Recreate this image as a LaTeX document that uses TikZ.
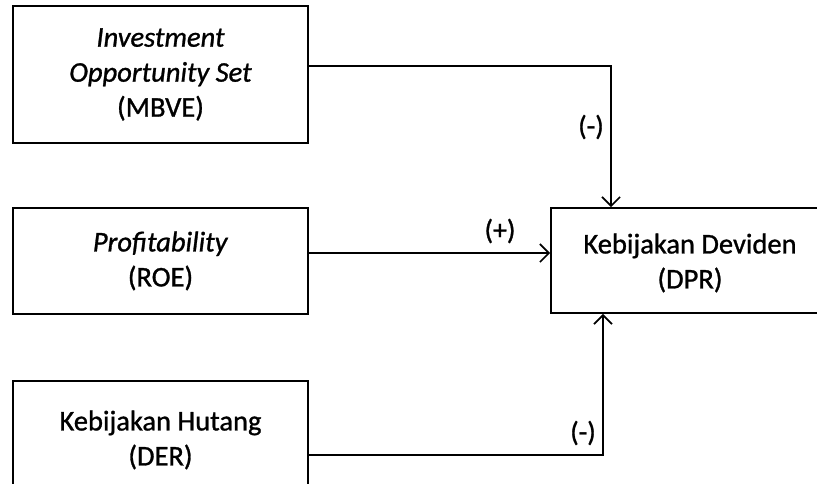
\documentclass[tikz,border=0pt]{standalone}
\usepackage{fontspec}
\setmainfont{Carlito}[FakeBold=1]
\usetikzlibrary{arrows.meta}
\tikzset{
  box/.style={draw, line width=1.7pt, align=center, inner sep=0pt,
    font=\fontsize{28.5}{35}\selectfont},
  txt/.style={align=center, inner sep=0pt, font=\fontsize{28.5}{35}\selectfont},
  conn/.style={line width=1.7pt, -{Straight Barb[length=9pt,width=18pt,line width=1.7pt]}},
  sign/.style={font=\fontsize{28}{30}\selectfont, inner sep=0pt}
}
\begin{document}
\begin{tikzpicture}[x=1pt,y=-1pt]
\useasboundingbox (0,0) rectangle (817,483);
\clip (0,0) rectangle (817,483);
\node[box, minimum width=295pt, minimum height=137pt] (ios) at (160.5,74.5)
  {\textit{Investment}\\\textit{Opportunity Set}\\(MBVE)};
\node[box, minimum width=295pt, minimum height=106pt] (roe) at (160.5,261)
  {\textit{Profitability}\\(ROE)};
\node[box, minimum width=295pt, minimum height=118pt] (der) at (160.5,440)
  {Kebijakan Hutang\\(DER)};
\node[box, minimum width=330pt, minimum height=105pt] (dpr) at (716,260.5) {};
\node[txt] (dprtext) at (690,263) {Kebijakan Deviden\\(DPR)};
\coordinate (c1) at (611,66);
\coordinate (c3) at (603,455);
\draw[conn] (ios.east |- c1) -- (c1) -- (dpr.north -| c1);
\draw[conn] (roe.east |- 0,253) -- (dpr.west |- 0,253);
\draw[conn] (der.east |- c3) -- (c3) -- (dpr.south -| c3);
\node[sign] (s1) at (591,127) {(-)};
\node[sign] (s2) at (500,231) {(+)};
\node[sign] (s3) at (583,433) {(-)};
\end{tikzpicture}
\end{document}
